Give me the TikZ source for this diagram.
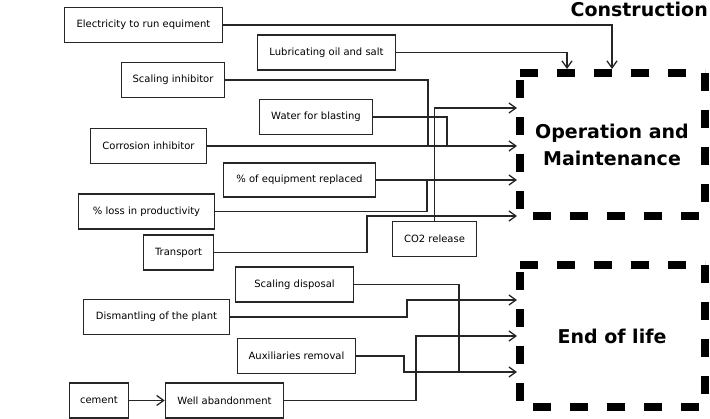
\documentclass[tikz,border=0pt]{standalone}
\usepackage{fontspec}
\setmainfont{DejaVu Sans}
\usetikzlibrary{arrows.meta,calc}
\begin{document}
\begin{tikzpicture}[x=1pt,y=-1pt,
  box/.style={draw=black!85,line width=1.5pt,inner sep=0pt,font=\fontsize{10}{12}\selectfont,align=center,minimum height=35pt},
  ln/.style={draw=black!85,line width=1.3pt},
  arr/.style={ln,-{Straight Barb[length=7pt,width=10pt,line width=1.3pt]}},
  dsh/.style={line width=8pt,dash pattern=on 18pt off 19pt,line cap=butt},
  big/.style={font=\fontsize{19}{27}\selectfont\bfseries,align=center,inner sep=0pt}]
\useasboundingbox (0,0) rectangle (710,419);
% boxes
\node[box,minimum width=158pt] (elec) at (143.5,25) {Electricity to run equiment};
\node[box,minimum width=138pt] (lub) at (326.5,52.5) {Lubricating oil and salt};
\node[box,minimum width=103pt] (scal) at (173,80) {Scaling inhibitor};
\node[box,minimum width=113pt] (water) at (316,117) {Water for blasting};
\node[box,minimum width=116pt] (corr) at (148.5,146) {Corrosion inhibitor};
\node[box,minimum width=152pt,minimum height=34pt] (equip) at (299.5,180) {\% of equipment replaced};
\node[box,minimum width=136pt] (loss) at (146.5,211.5) {\% loss in productivity};
\node[box,minimum width=70pt] (trans) at (178.5,252.5) {Transport};
\node[box,minimum width=84pt] (co2) at (434.5,239) {CO2 release};
\node[box,minimum width=118pt] (sdisp) at (294.5,284.5) {Scaling disposal};
\node[box,minimum width=146pt] (dism) at (156.5,317) {Dismantling of the plant};
\node[box,minimum width=118pt] (aux) at (296.5,356) {Auxiliaries removal};
\node[box,minimum width=59pt] (cement) at (99,400.5) {cement};
\node[box,minimum width=118pt] (well) at (224.5,400.5) {Well abandonment};
% dashed phase boxes
\draw[dsh] (520,73) -- (705,73);
\draw[dsh] (705,73) -- (705,216);
\draw[dsh] (533,216) -- (705,216);
\draw[dsh] (520,80) -- (520,216);
\draw[dsh] (520,265) -- (705,265);
\draw[dsh] (705,265) -- (705,407);
\draw[dsh] (533,407) -- (705,407);
\draw[dsh] (520,272) -- (520,407);
\node[big] (om) at (612,145) {Operation and\\Maintenance};
\node[big] (eol) at (612,336) {End of life};
\node[big,anchor=base east] (cons) at (708,17) {Construction};
% coordinates
\coordinate (omA) at (517,108);
\coordinate (omB) at (517,146);
\coordinate (omC) at (517,180);
\coordinate (omD) at (517,216);
\coordinate (omT1) at (567,69);
\coordinate (omT2) at (612,69);
\coordinate (eA) at (517,300);
\coordinate (eB) at (517,336);
\coordinate (eC) at (517,372);
\coordinate (jS) at (428,146);
\coordinate (jW) at (447,146);
\coordinate (jL) at (427,180);
\coordinate (xT) at (367,216);
\coordinate (xD) at (407,300);
\coordinate (xW) at (416,336);
\coordinate (jSD) at (459,372);
\coordinate (xA) at (404,372);
% connectors
\draw[arr] (elec.east) -| (omT2);
\draw[arr] (lub.east) -| (omT1);
\draw[ln] (scal.east) -| (jS);
\draw[ln] (water.east) -| (jW);
\draw[arr] (corr.east) -- (omB);
\draw[arr] (co2.north) |- (omA);
\draw[arr] (equip.east) -- (omC);
\draw[ln] (loss.east) -| (jL);
\draw[arr] (trans.east) -| (xT) -- (omD);
\draw[arr] (dism.east) -| (xD) -- (eA);
\draw[arr] (well.east) -| (xW) -- (eB);
\draw[ln] (sdisp.east) -| (jSD);
\draw[arr] (aux.east) -| (xA) -- (eC);
\draw[arr] (cement.east) -- (well.west);
\end{tikzpicture}
\end{document}
